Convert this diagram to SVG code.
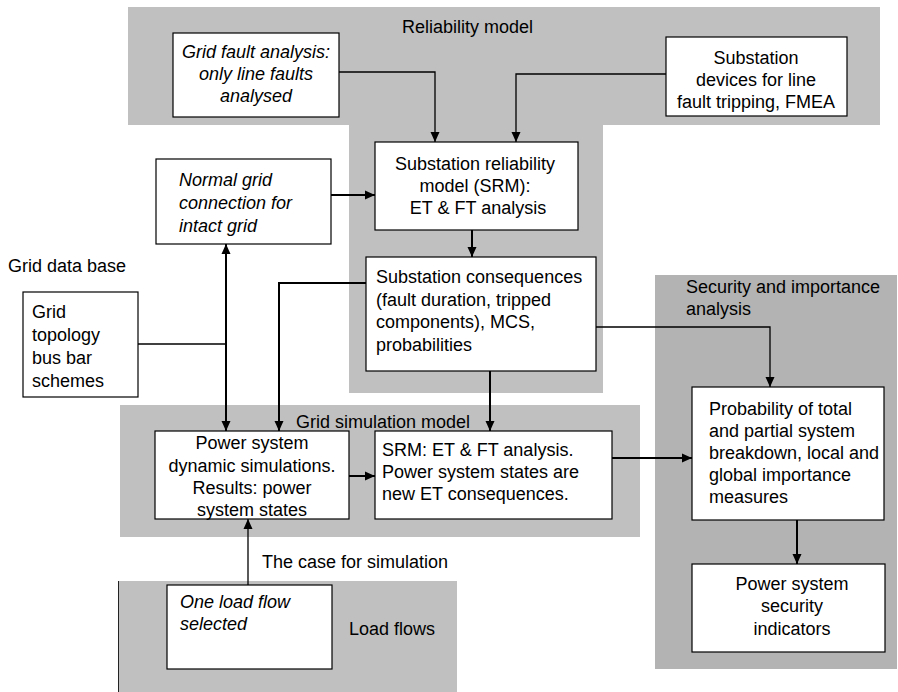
<svg xmlns="http://www.w3.org/2000/svg" width="898" height="692" viewBox="0 0 898 692">
<defs>
<style>
text{font-family:"Liberation Sans",Arial,sans-serif;font-size:18px;fill:#000}
.it{font-style:italic}
.c{text-anchor:middle}
.box{fill:#fff;stroke:#000;stroke-width:1.2}
.reg{fill:#c0c0c0}
.reg2{fill:#b3b3b3}
.ln{fill:none;stroke:#000;stroke-width:2}
.thin{fill:none;stroke:#000;stroke-width:1.3}
</style>
<marker id="ah" viewBox="0 0 10 10" refX="10" refY="5" markerWidth="10" markerHeight="10" markerUnits="userSpaceOnUse" orient="auto-start-reverse">
<path d="M0,0.5 L10,5 L0,9.5 Z" fill="#000"/>
</marker>
</defs>

<g id="regions">
<path id="reliability-region" class="reg" d="M128,7 H880 V125 H603 V393 H349 V125 H128 Z"/>
<rect id="security-region" class="reg2" x="655" y="275" width="242" height="394"/>
<rect id="gridsim-region" class="reg" x="120" y="405" width="520" height="132"/>
<rect id="loadflows-region" class="reg" x="118" y="581" width="339" height="111"/>
<line x1="118.5" y1="581" x2="118.5" y2="692" stroke="#222" stroke-width="1"/>
</g>

<g id="labels">
<text x="402" y="33">Reliability model</text>
<text x="8" y="272">Grid data base</text>
<text x="686" y="293">Security and importance</text>
<text x="686" y="315">analysis</text>
<text x="296" y="428">Grid simulation model</text>
<text x="262" y="568">The case for simulation</text>
<text x="349" y="635">Load flows</text>
</g>

<g id="connectors">
<polyline class="thin" points="339,72 435,72 435,142" marker-end="url(#ah)"/>
<polyline class="thin" points="666,74 516,74 516,142" marker-end="url(#ah)"/>
<line class="ln" x1="331" y1="195" x2="375" y2="195" marker-end="url(#ah)"/>
<line class="ln" x1="472" y1="230" x2="472" y2="257" marker-end="url(#ah)"/>
<line class="ln" x1="226" y1="244" x2="226" y2="431" marker-start="url(#ah)" marker-end="url(#ah)"/>
<line class="thin" x1="138" y1="344" x2="226" y2="344"/>
<polyline class="ln" points="366,283 279,283 279,431" marker-end="url(#ah)"/>
<line class="ln" x1="490" y1="371" x2="490" y2="431" marker-end="url(#ah)"/>
<polyline class="thin" points="596,327 770,327 770,387" marker-end="url(#ah)"/>
<line class="ln" x1="349" y1="476" x2="375" y2="476" marker-end="url(#ah)"/>
<line class="ln" x1="612" y1="458" x2="692" y2="458" marker-end="url(#ah)"/>
<line class="ln" x1="797" y1="520" x2="797" y2="564" marker-end="url(#ah)"/>
<line class="thin" x1="248" y1="585" x2="248" y2="519" marker-end="url(#ah)"/>
</g>

<g id="grid-fault-analysis">
<rect class="box" x="173" y="33" width="166" height="84"/>
<text class="it c" x="256" y="58">Grid fault analysis:</text>
<text class="it c" x="256" y="80">only line faults</text>
<text class="it c" x="256" y="102">analysed</text>
</g>

<g id="substation-devices">
<rect class="box" x="666" y="37" width="181" height="79"/>
<text class="c" x="756" y="64">Substation</text>
<text class="c" x="756" y="86">devices for line</text>
<text class="c" x="756" y="108">fault tripping, FMEA</text>
</g>

<g id="srm">
<rect class="box" x="375" y="142" width="203" height="88"/>
<text class="c" x="475" y="170">Substation reliability</text>
<text class="c" x="475" y="192">model (SRM):</text>
<text class="c" x="478" y="214">ET &amp; FT analysis</text>
</g>

<g id="normal-grid">
<rect class="box" x="156" y="159" width="175" height="85"/>
<text class="it" x="179" y="186">Normal grid</text>
<text class="it" x="179" y="209">connection for</text>
<text class="it" x="179" y="232">intact grid</text>
</g>

<g id="grid-topology">
<rect class="box" x="23" y="292" width="115" height="105"/>
<text x="32" y="318">Grid</text>
<text x="32" y="341">topology</text>
<text x="32" y="364">bus bar</text>
<text x="32" y="387">schemes</text>
</g>

<g id="substation-consequences">
<rect class="box" x="366" y="257" width="230" height="114"/>
<text x="376" y="283">Substation consequences</text>
<text x="376" y="306">(fault duration, tripped</text>
<text x="376" y="328">components), MCS,</text>
<text x="376" y="351">probabilities</text>
</g>

<g id="power-system-sim">
<rect class="box" x="155" y="431" width="194" height="88"/>
<text class="c" x="252" y="449">Power system</text>
<text class="c" x="252" y="472">dynamic simulations.</text>
<text class="c" x="252" y="494">Results: power</text>
<text class="c" x="252" y="516">system states</text>
</g>

<g id="srm-et-ft">
<rect class="box" x="375" y="431" width="237" height="88"/>
<text x="382" y="456">SRM: ET &amp; FT analysis.</text>
<text x="382" y="478">Power system states are</text>
<text x="382" y="500">new ET consequences.</text>
</g>

<g id="probability">
<rect class="box" x="692" y="387" width="192" height="133"/>
<text x="709" y="415">Probability of total</text>
<text x="709" y="437">and partial system</text>
<text x="709" y="459">breakdown, local and</text>
<text x="709" y="481">global importance</text>
<text x="709" y="503">measures</text>
</g>

<g id="security-indicators">
<rect class="box" x="692" y="564" width="193" height="88"/>
<text class="c" x="792" y="590">Power system</text>
<text class="c" x="792" y="612">security</text>
<text class="c" x="792" y="635">indicators</text>
</g>

<g id="load-flow">
<rect class="box" x="167" y="585" width="165" height="84"/>
<text class="it" x="180" y="608">One load flow</text>
<text class="it" x="180" y="630">selected</text>
</g>
</svg>
